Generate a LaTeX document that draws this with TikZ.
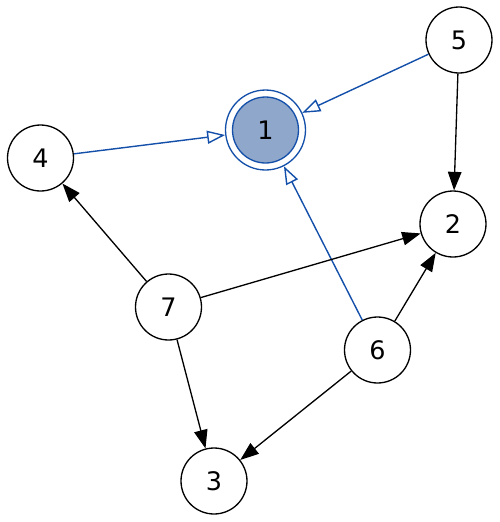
\documentclass[tikz,border=0pt]{standalone}
\usepackage{fontspec}
\setmainfont{DejaVu Sans}
\usetikzlibrary{arrows.meta}
\definecolor{linkblue}{RGB}{20,80,170}
\definecolor{goalfill}{RGB}{143,167,202}

\begin{document}
\begin{tikzpicture}[x=0.02cm, y=-0.02cm,
    state/.style={circle, draw, line width=0.75pt, minimum size=1.32cm, inner sep=0pt,
      font=\fontsize{14.5}{17}\selectfont},
    goal/.style={state, draw=linkblue, fill=goalfill},
    ring/.style={circle, draw=linkblue, line width=0.75pt, minimum size=1.6cm, inner sep=0pt},
    edge/.style={-{Triangle[length=0.37cm, width=0.27cm]}, line width=0.75pt},
    link/.style={-{Triangle[open, length=0.36cm, width=0.26cm]}, draw=linkblue, line width=0.8pt}]
      \useasboundingbox (0,0) rectangle (500,522);

      \node [goal] (1) at (265.5,130) {1};
      \node [ring] (1o) at (265.5,130) {};
      \node [state] (2) at (453,224) {2};
      \node [state] (3) at (214,481) {3};
      \node [state] (4) at (40.5,158) {4};
      \node [state] (5) at (459,40) {5};
      \node [state] (6) at (377.5,350) {6};
      \node [state] (7) at (168.5,307) {7};

      \draw[link] (5) -- (1o);
      \draw[link] (4) -- (1o);
      \draw[link] (6) -- (1o);

      \draw[edge] (5) -- (2);
      \draw[edge] (7) -- (2);
      \draw[edge] (7) -- (4);
      \draw[edge] (7) -- (3);
      \draw[edge] (6) -- (2);
      \draw[edge] (6) -- (3);
    \end{tikzpicture}
\end{document}
